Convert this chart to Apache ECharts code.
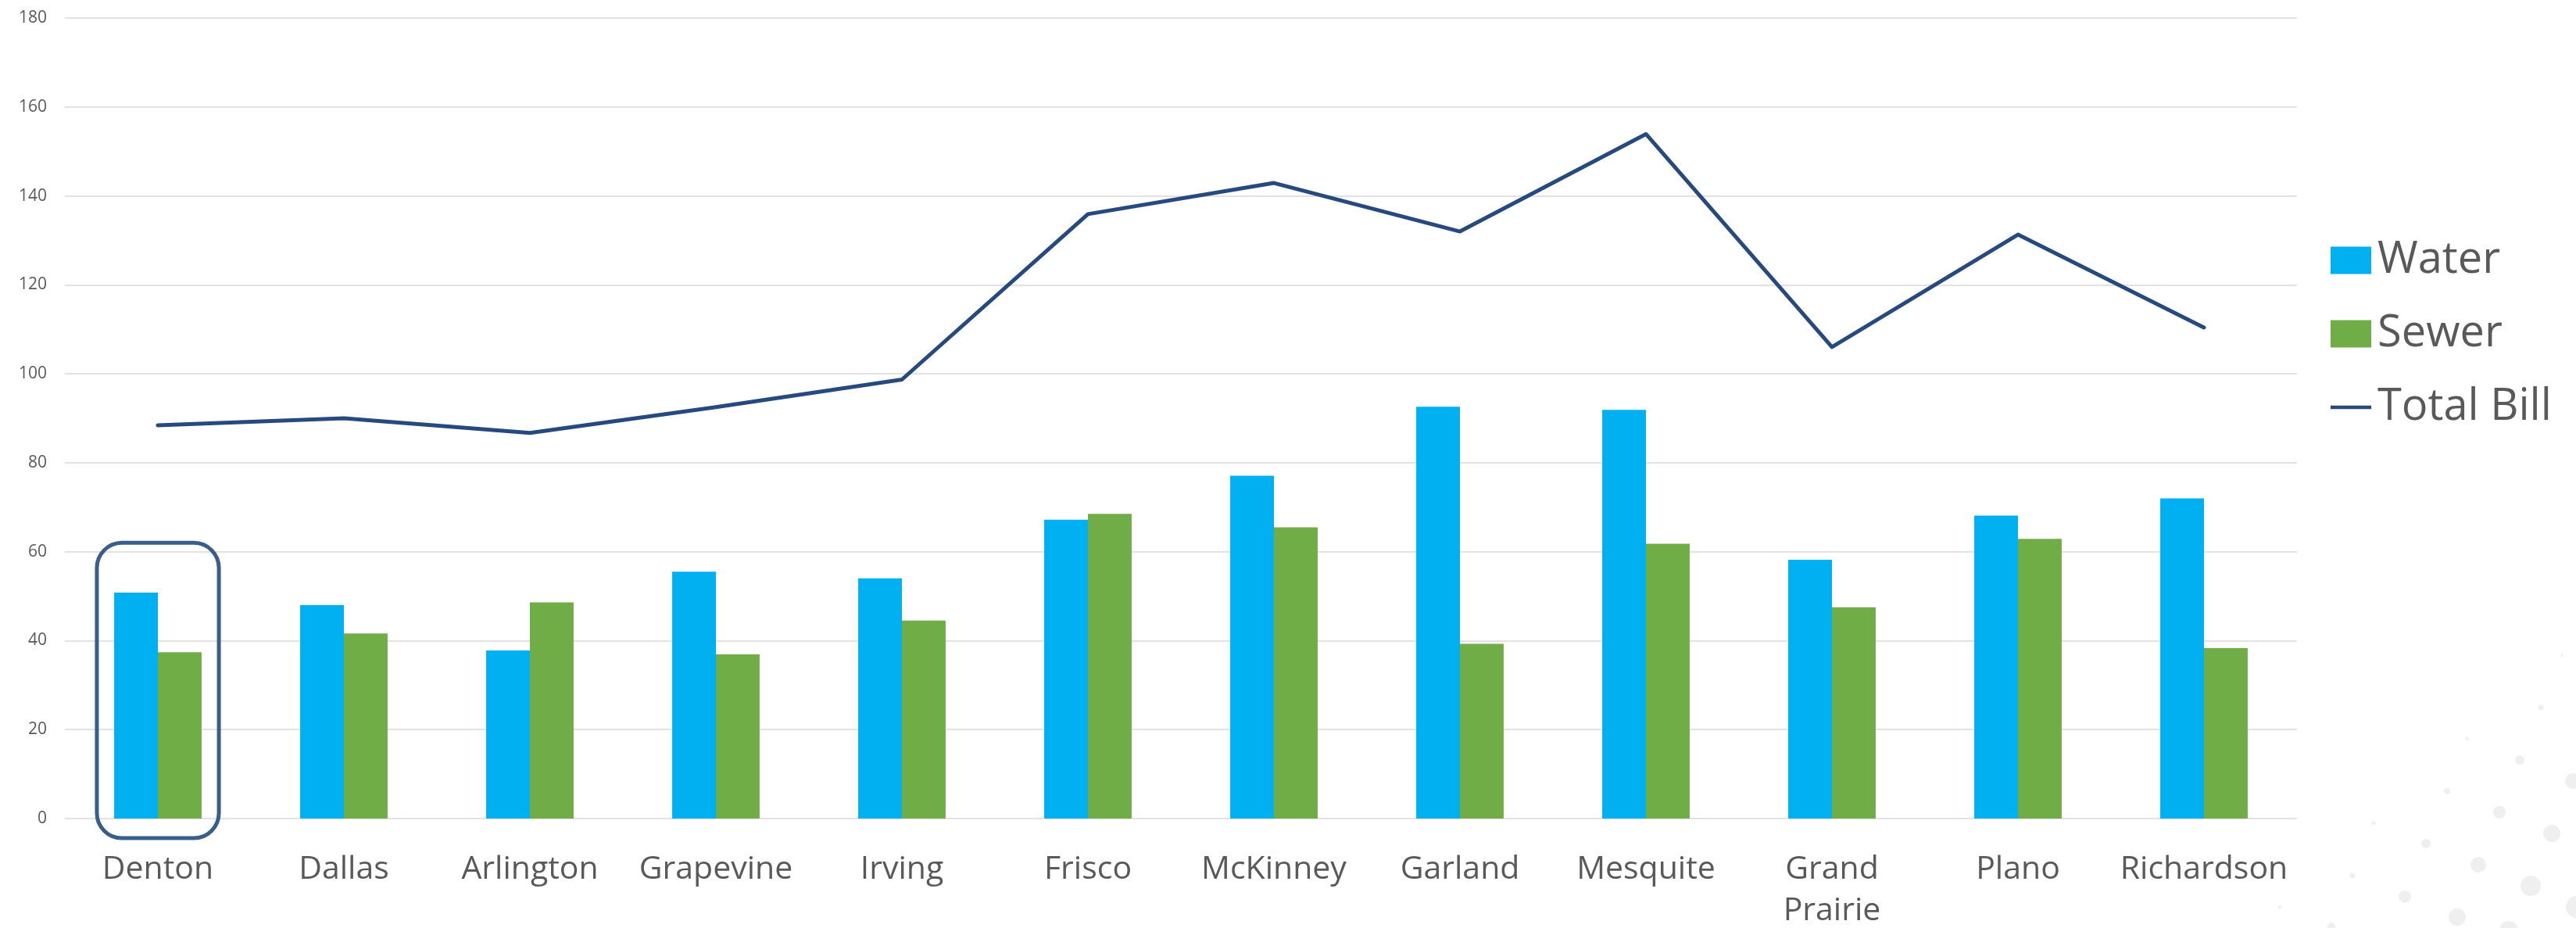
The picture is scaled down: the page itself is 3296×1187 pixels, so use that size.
<!DOCTYPE html>
<html>
<head>
<meta charset="utf-8">
<script src="https://cdn.jsdelivr.net/npm/echarts@6/dist/echarts.min.js"></script>
<style>
html,body{margin:0;padding:0;background:#fff;}
#c{width:3296px;height:1187px;}
</style>
</head>
<body>
<div id="c"></div>
<script>
var cities = ['Denton','Dallas','Arlington','Grapevine','Irving','Frisco','McKinney','Garland','Mesquite','Grand\nPrairie','Plano','Richardson'];
var water = [50.8, 48.0, 37.8, 55.5, 54.0, 67.2, 77.1, 92.6, 91.9, 58.2, 68.1, 72.0];
var sewer = [37.4, 41.6, 48.6, 36.9, 44.5, 68.5, 65.5, 39.3, 61.8, 47.5, 62.9, 38.3];
var totalBill = [88.4, 90.0, 86.7, 92.5, 98.7, 135.9, 142.9, 132.0, 153.9, 106.0, 131.3, 110.4];
var yTicks = {min: 0, max: 180, interval: 20};
var highlightCity = 'Denton';
var highlightRange = [-4.4, 62];

var FONT = 'Open Sans';
var chart = echarts.init(document.getElementById('c'), null, {renderer: 'canvas'});

// decorative background dots (bottom-right corner)
var dots = [
  [3278,838,2],[3251,905,3.5],[3157,945,2],[3224,972,6],[3292,999,10],[3131,1012,4],
  [3198,1039,8],[3037,1053,2.5],[3265,1066,11],[3104,1079,6],[3171,1106,10],[3010,1120,3.5],
  [3238,1133,13],[3077,1147,8],[3297,1160,14],[2917,1160,2],[3144,1173,11],[2983,1185,5],[3210,1190,12]
];

var option = {
  animation: false,
  backgroundColor: '#ffffff',
  textStyle: {fontFamily: FONT},
  grid: {left: 83, right: 357, top: 23, bottom: 140, containLabel: false, outerBoundsMode: 'none'},
  legend: {
    orient: 'vertical',
    left: 2982,
    top: 303,
    padding: 0,
    itemWidth: 52,
    itemHeight: 35,
    itemGap: 34,
    symbolKeepAspect: true,
    textStyle: {fontSize: 56, color: '#595959', fontFamily: FONT, lineHeight: 60, padding: [0,0,0,3]},
    data: [
      {name: 'Water', icon: 'rect'},
      {name: 'Sewer', icon: 'rect'},
      {name: 'Total Bill', icon: 'path://M0,0H56V5H0Z'}
    ]
  },
  xAxis: {
    type: 'category',
    data: cities,
    axisLine: {show: false},
    axisTick: {show: false},
    axisLabel: {fontSize: 41, color: '#595959', fontFamily: FONT, margin: 39, lineHeight: 53, interval: 0}
  },
  yAxis: {
    type: 'value',
    min: yTicks.min,
    max: yTicks.max,
    interval: yTicks.interval,
    axisLine: {show: false},
    axisTick: {show: false},
    axisLabel: {fontSize: 21, color: '#595959', fontFamily: FONT, margin: 23},
    splitLine: {lineStyle: {color: '#D9D9D9', width: 1.5}}
  },
  series: [
    {name: 'Water', type: 'bar', data: water, barGap: '0%', barCategoryGap: '53%',
     itemStyle: {color: '#00B0F0'}, z: 2},
    {name: 'Sewer', type: 'bar', data: sewer, barGap: '0%', barCategoryGap: '53%',
     itemStyle: {color: '#70AD47'}, z: 2},
    {name: 'Total Bill', type: 'line', data: totalBill, symbol: 'none',
     lineStyle: {color: '#264A7F', width: 5, cap: 'round', join: 'round'},
     itemStyle: {color: '#264A7F'}, z: 3}
  ]
};
chart.setOption(option);

// highlight box around one city, positioned from the axes
var idx = cities.indexOf(highlightCity);
var cx = chart.convertToPixel({xAxisIndex: 0}, idx);
var cx2 = chart.convertToPixel({xAxisIndex: 0}, idx + 1);
var band = cx2 - cx;
var yTop = chart.convertToPixel({yAxisIndex: 0}, highlightRange[1]);
var yBot = chart.convertToPixel({yAxisIndex: 0}, highlightRange[0]);
var half = band * 0.328;

var graphics = dots.map(function (d) {
  return {type: 'circle', shape: {cx: d[0], cy: d[1], r: d[2]}, style: {fill: '#EFEFEF'}, z: -10, silent: true};
});
graphics.push({
  type: 'rect',
  shape: {x: cx - half, y: yTop, width: half * 2, height: yBot - yTop, r: 32},
  style: {fill: 'none', stroke: '#3A5E8C', lineWidth: 5},
  z: 100, silent: true
});
chart.setOption({graphic: graphics});
</script>
</body>
</html>
